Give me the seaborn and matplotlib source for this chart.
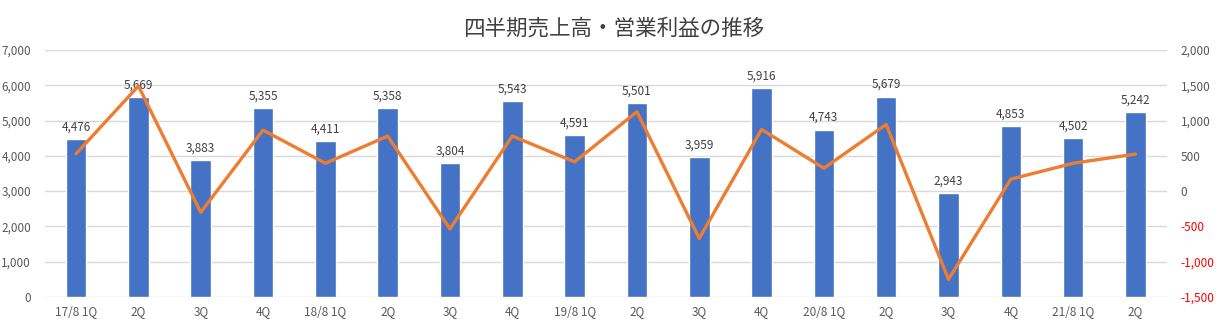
import numpy as np
import pandas as pd
import matplotlib
matplotlib.use("Agg")
import matplotlib.pyplot as plt
import seaborn as sns

# Quarter identifiers (unique) and the labels shown under each bar
quarters = ["17/8 1Q", "17/8 2Q", "17/8 3Q", "17/8 4Q",
            "18/8 1Q", "18/8 2Q", "18/8 3Q", "18/8 4Q",
            "19/8 1Q", "19/8 2Q", "19/8 3Q", "19/8 4Q",
            "20/8 1Q", "20/8 2Q", "20/8 3Q", "20/8 4Q",
            "21/8 1Q", "21/8 2Q"]
tick_labels = ["17/8 1Q", "2Q", "3Q", "4Q",
               "18/8 1Q", "2Q", "3Q", "4Q",
               "19/8 1Q", "2Q", "3Q", "4Q",
               "20/8 1Q", "2Q", "3Q", "4Q",
               "21/8 1Q", "2Q"]
# Net sales (left axis)
sales = [4476, 5669, 3883, 5355, 4411, 5358, 3804, 5543, 4591,
         5501, 3959, 5916, 4743, 5679, 2943, 4853, 4502, 5242]
# Operating income (right axis)
operating_income = [530, 1490, -300, 865, 395, 780, -535, 780, 415,
                    1125, -670, 875, 325, 945, -1250, 170, 395, 525]

left_ticks = [0, 1000, 2000, 3000, 4000, 5000, 6000, 7000]
right_ticks = [-1500, -1000, -500, 0, 500, 1000, 1500, 2000]

df = pd.DataFrame({"quarter": quarters, "sales": sales,
                   "income": operating_income})
df["pos"] = np.arange(len(df))

sns.set_theme(style="white")
plt.rcParams["font.family"] = ["Noto Sans CJK JP", "DejaVu Sans"]

BAR = "#4472C4"
LINE = "#ED7D31"
GRID = "#D9D9D9"
TXT = "#595959"

fig = plt.figure(figsize=(12.28, 3.28), dpi=100)
ax = fig.add_axes([0.0366, 0.0945, 0.9134, 0.7531])

sns.barplot(data=df, x="quarter", y="sales", color=BAR, width=0.33,
            saturation=1, ax=ax, zorder=2)
ax.set_xlim(-0.5, len(df) - 0.5)
ax.set_ylim(left_ticks[0], left_ticks[-1])
ax.set_yticks(left_ticks)
ax.set_yticklabels([f"{v:,}" for v in left_ticks])
ax.set_xticks(df["pos"])
ax.set_xticklabels(tick_labels)
ax.set_xlabel("")
ax.set_ylabel("")
ax.grid(axis="y", color=GRID, linewidth=1)
ax.set_axisbelow(True)
for s in ax.spines.values():
    s.set_visible(False)
ax.tick_params(axis="both", length=0, labelsize=8.5, colors=TXT, pad=6)
ax.tick_params(axis="y", pad=10)

ax.bar_label(ax.containers[0], labels=[f"{v:,}" for v in sales],
             padding=4, fontsize=8.5, color="#404040")

ax2 = ax.twinx()
sns.lineplot(data=df, x="pos", y="income", color=LINE, linewidth=2.4,
             ax=ax2, zorder=3)
ax2.set_xlim(-0.5, len(df) - 0.5)
ax2.set_ylim(right_ticks[0], right_ticks[-1])
ax2.set_yticks(right_ticks)
ax2.set_yticklabels([f"{v:,}" for v in right_ticks])
ax2.set_ylabel("")
ax2.set_xlabel("")
for s in ax2.spines.values():
    s.set_visible(False)
ax2.tick_params(axis="y", length=0, labelsize=8.5, colors=TXT, pad=10)
for lbl, v in zip(ax2.get_yticklabels(), right_ticks):
    if v < 0:
        lbl.set_color("#FF0000")

fig.text(0.5, 0.912, "四半期売上高・営業利益の推移", ha="center", va="center",
         fontsize=15.5, color="#404040")

fig.savefig("out.png", dpi=100, facecolor="white")
